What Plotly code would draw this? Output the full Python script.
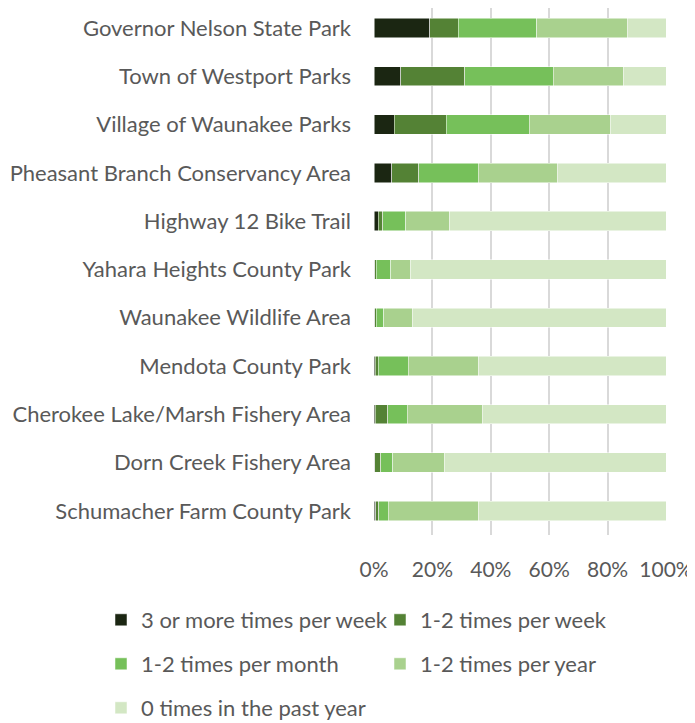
import plotly.graph_objects as go

categories = [
    "Governor Nelson State Park",
    "Town of Westport Parks",
    "Village of Waunakee Parks",
    "Pheasant Branch Conservancy Area",
    "Highway 12 Bike Trail",
    "Yahara Heights County Park",
    "Waunakee Wildlife Area",
    "Mendota County Park",
    "Cherokee Lake/Marsh Fishery Area",
    "Dorn Creek Fishery Area",
    "Schumacher Farm County Park",
]

series_names = [
    "3 or more times per week",
    "1-2 times per week",
    "1-2 times per month",
    "1-2 times per year",
    "0 times in the past year",
]

three_plus_week = [19.1, 9.2, 6.9, 6.1, 1.4, 0.3, 0.3, 0.5, 0.4, 0.3, 0.6]
one_two_week = [9.7, 21.8, 17.8, 9.3, 1.6, 0.5, 0.5, 0.9, 4.3, 2.0, 1.0]
one_two_month = [27.0, 30.3, 28.4, 20.3, 7.9, 4.9, 2.5, 10.3, 6.6, 4.1, 3.2]
one_two_year = [30.9, 24.1, 27.8, 27.0, 15.1, 6.9, 10.0, 24.2, 25.7, 17.9, 31.1]
zero_times = [13.3, 14.6, 19.1, 37.3, 74.0, 87.4, 86.7, 64.1, 63.0, 75.7, 64.1]

tick_vals = [0, 20, 40, 60, 80, 100]
tick_text = ["0%", "20%", "40%", "60%", "80%", "100%"]

colors = ["#1b2612", "#548235", "#76c05a", "#a9d18e", "#d3e7c4"]
series_values = [three_plus_week, one_two_week, one_two_month, one_two_year, zero_times]
legend_ids = ["legend", "legend", "legend2", "legend2", "legend3"]

FONT = "Lato"
TXT = "#595959"
FS = 22

fig = go.Figure()
for name, vals, col, lg in zip(series_names, series_values, colors, legend_ids):
    fig.add_trace(go.Bar(
        y=categories, x=vals, name=name, orientation="h",
        marker=dict(color=col, line=dict(color="white", width=0.5)),
        legend=lg,
    ))

# page has an 8px body margin, so figure coords = screen coords - 8
W, H = 695, 723
L, R, T, B = 366, 37, 0, 196
pw = W - L - R
ph = H - T - B

def px_x(x):
    return (x - L) / pw

def px_y(y):
    return (H - B - y) / ph

legend_common = dict(
    orientation="h", font=dict(family=FONT, size=FS, color=TXT),
    entrywidth=234, entrywidthmode="pixels", bgcolor="rgba(0,0,0,0)",
    xanchor="left", yanchor="middle", itemwidth=30, tracegroupgap=0,
    traceorder="normal",
)

fig.update_layout(
    width=W, height=H,
    margin=dict(l=L, r=R, t=T, b=B, pad=0),
    barmode="stack", bargap=0.6,
    plot_bgcolor="white", paper_bgcolor="white",
    font=dict(family=FONT, size=FS, color=TXT),
    xaxis=dict(
        range=[0, 100], tickvals=tick_vals, ticktext=tick_text,
        showgrid=True, gridcolor="#d9d9d9", gridwidth=1.5,
        zeroline=False, showline=False, ticks="",
        tickfont=dict(family=FONT, size=21, color=TXT),
        ticklabelstandoff=20,
    ),
    yaxis=dict(
        range=[10.5, -0.414], showgrid=False, zeroline=False,
        showline=False, ticks="",
        tickfont=dict(family=FONT, size=FS, color=TXT),
        ticklabelstandoff=22,
    ),
    legend=dict(x=px_x(93), y=px_y(612), **legend_common),
    legend2=dict(x=px_x(93), y=px_y(656), **legend_common),
    legend3=dict(x=px_x(93), y=px_y(700), **legend_common),
    showlegend=True,
)

fig.write_html("out.html")
